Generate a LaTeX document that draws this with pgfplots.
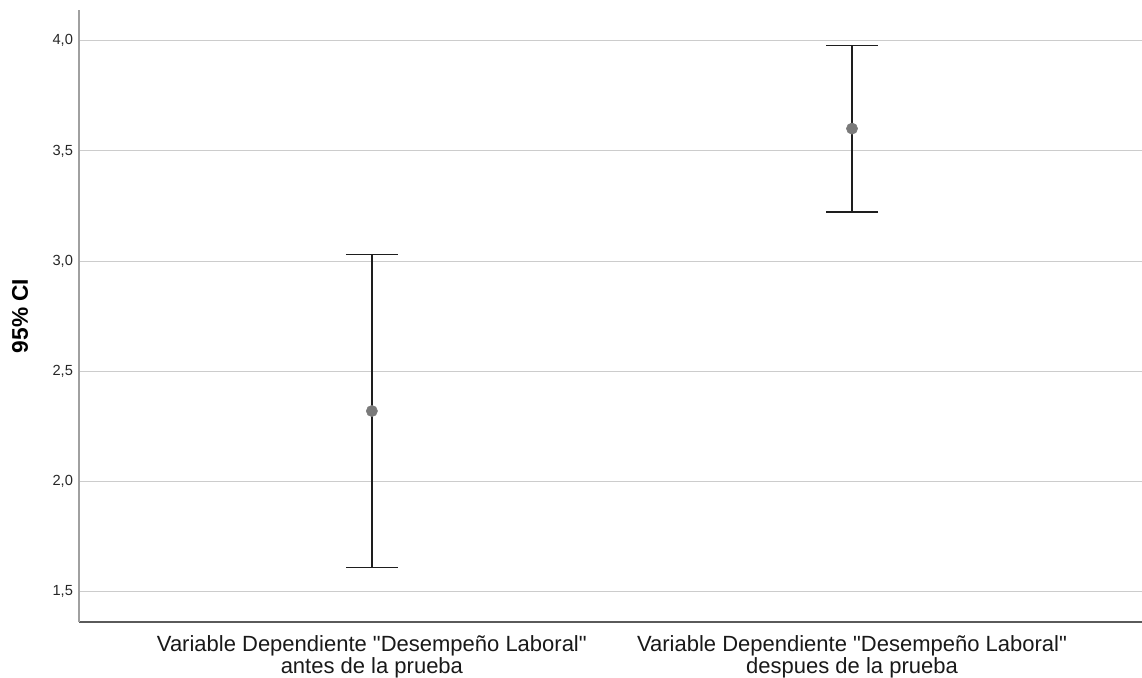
\documentclass[border=0pt]{standalone}
\usepackage{fontspec}
\setmainfont{Liberation Sans}
\usepackage{pgfplots}
\pgfplotsset{compat=1.18}

\definecolor{gridgray}{HTML}{CCCCCC}
\definecolor{yaxisgray}{HTML}{A0A0A0}
\definecolor{xaxisgray}{HTML}{5A5A5A}
\definecolor{meangray}{HTML}{7A7A7A}
\definecolor{barblack}{HTML}{1E1E1E}

\begin{document}
\begin{tikzpicture}
\useasboundingbox (0,0) rectangle (856.5pt,508.5pt);
\begin{axis}[
  at={(59.25pt,42pt)}, anchor=south west,
  scale only axis,
  width=797.25pt, height=459pt,
  xmin=-0.610, xmax=1.604,
  ymin=1.363, ymax=4.139,
  axis x line*=bottom, axis y line*=left,
  x axis line style={-, color=xaxisgray, line width=0.9pt},
  y axis line style={-, color=yaxisgray, line width=0.9pt},
  major tick length=0pt,
  ytick={1.5,2.0,2.5,3.0,3.5,4.0},
  ymajorgrids,
  grid style={color=gridgray, line width=0.9pt},
  xtick={0,1},
  xticklabels={{Variable Dependiente \textquotedbl Desempeño Laboral\textquotedbl\\antes de la prueba},
               {Variable Dependiente \textquotedbl Desempeño Laboral\textquotedbl\\despues de la prueba}},
  xticklabel style={align=center, font=\fontsize{16.5}{15}\selectfont, text=black!90, yshift=-7pt},
  yticklabel style={font=\fontsize{11}{12}\selectfont, text=black!85, xshift=-1pt},
  /pgf/number format/.cd, use comma, fixed, fixed zerofill, precision=1, assume math mode=true,
  /pgfplots/.cd,
  ylabel={\textbf{95\% CI}},
  ylabel style={at={(axis description cs:-0.0555,0.5)}, rotate=0, anchor=center,
                font=\fontsize{17}{18}\selectfont},
  clip=false,
]
\addplot[
  only marks,
  mark=*, mark size=4.2pt,
  mark options={fill=meangray, draw=meangray},
  error bars/.cd,
    y dir=both, y explicit,
    error bar style={color=barblack, line width=1pt},
    error mark options={rotate=90, color=barblack, line width=1pt, mark size=19.5pt},
] coordinates {
  (0,2.320) +- (0,0.711)
  (1,3.601) +- (0,0.378)
};
\end{axis}
\end{tikzpicture}
\end{document}
